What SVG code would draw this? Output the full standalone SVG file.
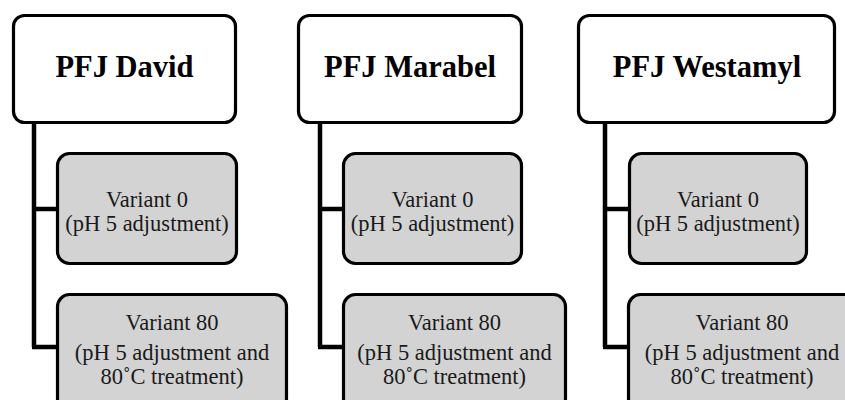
<svg xmlns="http://www.w3.org/2000/svg" width="845" height="400" viewBox="0 0 845 400">
  <style>
    .head { fill: #ffffff; stroke: #000000; stroke-width: 3.2; }
    .var { fill: #d3d3d3; stroke: #000000; stroke-width: 3.2; }
    .conn { fill: none; stroke: #000000; stroke-width: 4.5; stroke-linejoin: miter; }
    .title { font-family: "Liberation Serif", "Times New Roman", serif; font-weight: bold; font-size: 30.5px; text-anchor: middle; fill: #000000; }
    .label { font-family: "Liberation Serif", "Times New Roman", serif; font-size: 22.5px; text-anchor: middle; fill: #1a1a1a; }
  </style>
  <rect width="845" height="400" fill="#ffffff"/>

  <g id="connectors">
    <path class="conn" d="M34,123 V347 M32,209 H58 M32,347 H58"/>
    <path class="conn" d="M320,123 V347 M318,209 H344 M318,347 H344"/>
    <path class="conn" d="M605,123 V347 M603,209 H630 M603,347 H629"/>
  </g>

  <g id="david">
    <rect class="head" x="13.5" y="15.5" width="222" height="107" rx="11"/>
    <text class="title" x="124.5" y="77">PFJ David</text>
  </g>
  <g id="david-v0">
    <rect class="var" x="57.5" y="153.5" width="179" height="110" rx="12"/>
    <text class="label" x="147" y="207">Variant 0</text>
    <text class="label" x="147" y="231">(pH 5 adjustment)</text>
  </g>
  <g id="david-v80">
    <rect class="var" x="57.5" y="294.5" width="229" height="116" rx="12"/>
    <text class="label" x="172" y="330">Variant 80</text>
    <text class="label" x="172" y="360">(pH 5 adjustment and</text>
    <text class="label" x="172" y="384">80˚C treatment)</text>
  </g>

  <g id="marabel">
    <rect class="head" x="298.5" y="15.5" width="223" height="107" rx="11"/>
    <text class="title" x="410" y="77">PFJ Marabel</text>
  </g>
  <g id="marabel-v0">
    <rect class="var" x="343.5" y="153.5" width="178" height="110" rx="12"/>
    <text class="label" x="432.5" y="207">Variant 0</text>
    <text class="label" x="432.5" y="231">(pH 5 adjustment)</text>
  </g>
  <g id="marabel-v80">
    <rect class="var" x="343.5" y="294.5" width="222" height="116" rx="12"/>
    <text class="label" x="454.5" y="330">Variant 80</text>
    <text class="label" x="454.5" y="360">(pH 5 adjustment and</text>
    <text class="label" x="454.5" y="384">80˚C treatment)</text>
  </g>

  <g id="westamyl">
    <rect class="head" x="578.5" y="15.5" width="256" height="107" rx="11"/>
    <text class="title" x="707" y="77">PFJ Westamyl</text>
  </g>
  <g id="westamyl-v0">
    <rect class="var" x="629.5" y="153.5" width="177" height="110" rx="12"/>
    <text class="label" x="718" y="207">Variant 0</text>
    <text class="label" x="718" y="231">(pH 5 adjustment)</text>
  </g>
  <g id="westamyl-v80">
    <rect class="var" x="628.5" y="294.5" width="228" height="116" rx="12"/>
    <text class="label" x="742" y="330">Variant 80</text>
    <text class="label" x="742" y="360">(pH 5 adjustment and</text>
    <text class="label" x="742" y="384">80˚C treatment)</text>
  </g>
</svg>
